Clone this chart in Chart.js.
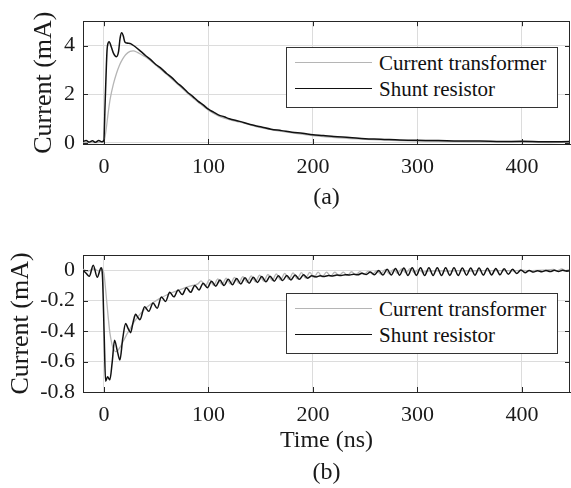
<!DOCTYPE html>
<html>
<head>
<meta charset="utf-8">
<script src="https://cdn.jsdelivr.net/npm/chart.js@4.4.1/dist/chart.umd.min.js"></script>
<style>
  body { margin: 0; background: #fff; }
  #wrap { position: relative; width: 571px; height: 488px; overflow: hidden; font-family: "Liberation Serif", "Times New Roman", serif; }
  canvas { position: absolute; left: 0; }
  #chartA { top: 0; }
  #chartB { top: 230px; }
  .legend { position: absolute; left: 286px; width: 270px; height: 59px; background: #fff; border: 1px solid #333; }
  .legend .row { position: absolute; left: 0; height: 26px; width: 100%; }
  .legend .sample { position: absolute; left: 8px; top: 12px; width: 77px; }
  .legend .label { position: absolute; left: 92px; top: 0; font-size: 21px; line-height: 26px; color: #111; white-space: nowrap; }
</style>
</head>
<body>
<div id="wrap">
  <canvas id="chartA" width="571" height="215"></canvas>
  <canvas id="chartB" width="571" height="258"></canvas>
  <div class="legend" id="legA" style="top:47px"></div>
  <div class="legend" id="legB" style="top:293px"></div>
</div>
<script>
// tick labels
const xTicks = [0, 100, 200, 300, 400];
const yTicksA = [0, 2, 4];
const yTicksB = [0, -0.2, -0.4, -0.6, -0.8];
const seriesNames = ['Current transformer', 'Shunt resistor'];

// (a) current transformer
const ctTimeA = [-20, -10, 0, 2, 4, 6, 9, 12, 15, 18, 21, 25, 28, 32, 36, 40, 50, 60, 70, 80,
  90, 100, 110, 120, 135, 150, 170, 200, 225, 250, 275, 300, 350, 400, 425, 446];
const ctValA = [0, 0.01, 0.05, 0.5, 1.2, 1.8, 2.4, 2.85, 3.2, 3.45, 3.63, 3.76, 3.78, 3.72, 3.62, 3.53, 3.18, 2.82, 2.43, 2.04,
  1.68, 1.34, 1.1, 0.95, 0.8, 0.62, 0.47, 0.3, 0.2, 0.14, 0.1, 0.07, 0.04, 0.02, 0.01, 0.02];

// (a) shunt resistor
const shTimeA = [-20, -17, -14, -11, -8, -5, -2, 0, 1, 2, 3, 4, 5, 7, 9, 12, 14, 15.5, 17, 18.5,
  20, 22, 25, 27, 30, 35, 40, 45, 50, 55, 60, 65, 70, 75, 80, 85, 90, 95, 100, 105,
  110, 115, 120, 130, 140, 150, 160, 170, 180, 190, 200, 210, 220, 235, 250, 265, 283, 300, 320, 340,
  360, 380, 400, 420, 446];
const shValA = [0.05, 0.09, 0.03, 0.08, 0.02, 0.09, 0.04, 0.1, 1.4, 2.7, 3.8, 4.1, 4.16, 3.95, 3.7, 3.54, 3.75, 4.3, 4.52, 4.4,
  4.15, 4.1, 4.08, 4.04, 3.95, 3.77, 3.58, 3.41, 3.21, 3.05, 2.85, 2.68, 2.47, 2.29, 2.08, 1.91, 1.71, 1.56, 1.38, 1.26,
  1.14, 1.07, 0.99, 0.88, 0.75, 0.66, 0.56, 0.5, 0.43, 0.39, 0.33, 0.3, 0.26, 0.22, 0.17, 0.15, 0.11, 0.1, 0.09, 0.07,
  0.07, 0.05, 0.06, 0.04, 0.05];

// (b) current transformer
const ctTimeB = [-20, -15, -10, -5, -2, 0, 1, 2.5, 4, 5.7, 7.5, 9, 11, 13, 16, 19, 22, 25, 28, 31,
  35, 40, 45, 50, 55, 60, 65, 70, 75, 80, 85, 90,
  93, 97, 101, 105, 109, 113, 117, 121, 125, 129, 133, 137, 141, 145, 149, 153, 157, 161, 165, 169,
  173, 177, 181, 185, 189, 193, 197, 201, 205, 209, 213, 217, 221, 225, 229, 233, 237, 241, 245, 249,
  253, 257, 261, 265, 269, 273, 277, 281, 285, 289, 293, 297, 301, 305,
  310, 320, 330, 340, 350, 360, 370, 380, 390, 400, 410, 420, 430, 434, 438, 442, 446];
const ctValB = [0.005, -0.005, 0.008, -0.004, 0.004, -0.02, -0.08, -0.19, -0.3, -0.41, -0.48, -0.515, -0.535, -0.53, -0.5, -0.46, -0.42, -0.385, -0.35, -0.32,
  -0.285, -0.25, -0.222, -0.2, -0.18, -0.163, -0.148, -0.135, -0.122, -0.11, -0.1, -0.09,
  -0.07, -0.105, -0.062, -0.1, -0.057, -0.095, -0.052, -0.09, -0.047, -0.085, -0.042, -0.08, -0.037, -0.076, -0.032, -0.072, -0.028, -0.068, -0.024, -0.064,
  -0.021, -0.06, -0.018, -0.056, -0.016, -0.052, -0.014, -0.048, -0.013, -0.044, -0.012, -0.04, -0.012, -0.037, -0.012, -0.034, -0.01, -0.031, -0.009, -0.028,
  -0.006, -0.026, -0.002, -0.026, 0.004, -0.024, 0.006, -0.02, 0.008, -0.018, 0.01, -0.016, 0.006, -0.014,
  -0.006, -0.004, -0.006, -0.003, -0.005, -0.002, -0.004, -0.002, -0.004, -0.001, -0.003, 0.0, 0.006, -0.004, 0.008, -0.002, 0.006];

// (b) shunt resistor
const shTimeB = [-20, -17, -14, -10.2, -6.4, -2.6, -1.3, 0.3, 1.6, 3.5, 5.7, 8, 10.2, 12.8, 15.3, 18, 20.8, 23, 25.5, 28,
  30.3, 32.5, 34.4,
  39, 43, 47, 51, 55, 59, 63, 67, 71, 75, 79, 83, 87, 91, 95, 99, 103, 107, 111, 115,
  119, 123, 127, 131, 135, 139, 143, 147, 151, 155, 159, 163, 167, 171, 175, 179, 183, 187, 191, 195,
  199, 203, 207, 211, 215, 219, 223, 227, 231, 235, 239, 243, 247, 251, 255, 259, 263, 267, 271, 275,
  279, 283, 287, 291, 295, 299, 303, 307, 311, 315, 319, 323, 327, 331, 335, 339, 343, 347, 351, 355,
  359, 363, 367, 371, 375, 379, 383, 387, 391, 395, 399, 403, 407, 411, 415, 419, 423, 427, 431, 435,
  439, 443, 447];
const shValB = [0.0, -0.02, -0.04, 0.033, -0.046, 0.016, -0.05, -0.435, -0.73, -0.7, -0.72, -0.6, -0.46, -0.53, -0.59, -0.45, -0.35, -0.38, -0.41, -0.34,
  -0.29, -0.31, -0.325,
  -0.24, -0.27, -0.215, -0.25, -0.176, -0.205, -0.145, -0.175, -0.13, -0.16, -0.115, -0.145, -0.1, -0.13, -0.085, -0.115, -0.072, -0.105, -0.065, -0.1,
  -0.06, -0.095, -0.055, -0.09, -0.05, -0.085, -0.046, -0.08, -0.042, -0.076, -0.04, -0.072, -0.037, -0.068, -0.034, -0.064, -0.031, -0.06, -0.03, -0.052,
  -0.036, -0.044, -0.037, -0.041, -0.035, -0.038, -0.032, -0.035, -0.029, -0.032, -0.026, -0.03, -0.02, -0.028, -0.012, -0.03, -0.002, -0.032, 0.006, -0.032,
  0.012, -0.033, 0.015, -0.034, 0.016, -0.034, 0.016, -0.035, 0.017, -0.035, 0.017, -0.035, 0.016, -0.034, 0.016, -0.034, 0.015, -0.033, 0.015, -0.033,
  0.014, -0.032, 0.013, -0.031, 0.012, -0.03, 0.01, -0.027, 0.006, -0.022, 0.002, -0.016, -0.002, -0.012, -0.003, -0.01, -0.002, -0.009, -0.001, -0.008,
  0.0, -0.006, -0.001];

const serif = '"Liberation Serif", "Times New Roman", serif';
const ink = '#1a1a1a';
const gridCol = '#dcdcdc';

const pairs = (ts, vs) => ts.map((t, i) => ({x: t, y: vs[i]}));

// matlab-style box with inward ticks
const boxTicks = {
  id: 'boxTicks',
  afterDatasetsDraw(chart) {
    const {ctx, chartArea: a, scales: {x, y}} = chart;
    const al = v => Math.round(v) + 0.5;
    ctx.save();
    ctx.strokeStyle = '#262626';
    ctx.lineWidth = 1;
    ctx.beginPath();
    x.ticks.forEach(t => {
      const px = al(x.getPixelForValue(t.value));
      ctx.moveTo(px, a.bottom); ctx.lineTo(px, a.bottom - 5);
      ctx.moveTo(px, a.top); ctx.lineTo(px, a.top + 5);
    });
    y.ticks.forEach(t => {
      const py = al(y.getPixelForValue(t.value));
      ctx.moveTo(a.left, py); ctx.lineTo(a.left + 5, py);
      ctx.moveTo(a.right, py); ctx.lineTo(a.right - 5, py);
    });
    ctx.moveTo(a.left, al(a.top)); ctx.lineTo(a.right, al(a.top));
    ctx.moveTo(al(a.right) - 1, a.top); ctx.lineTo(al(a.right) - 1, a.bottom);
    ctx.stroke();
    ctx.restore();
  }
};

function makeChart(id, ctT, ctV, shT, shV, yMin, yMax, yTicks, xTitle, cfg) {
  return new Chart(document.getElementById(id), {
    type: 'line',
    data: {
      datasets: [
        {label: seriesNames[0], data: pairs(ctT, ctV), borderColor: '#b5b5b5', borderWidth: 1.3, order: 1},
        {label: seriesNames[1], data: pairs(shT, shV), borderColor: '#111111', borderWidth: 1.5, order: 0}
      ]
    },
    options: {
      responsive: false,
      animation: false,
      parsing: false,
      layout: {padding: {top: cfg.padTop, right: 1, left: 0, bottom: 0}},
      elements: {point: {radius: 0}, line: {cubicInterpolationMode: 'monotone'}},
      plugins: {legend: {display: false}, tooltip: {enabled: false}},
      scales: {
        x: {
          type: 'linear', min: -20, max: 446,
          afterBuildTicks: s => { s.ticks = xTicks.map(v => ({value: v})); },
          afterFit: s => { s.height = cfg.xHeight; },
          grid: {color: gridCol, drawTicks: false},
          border: {color: '#262626', width: 1},
          ticks: {autoSkip: false, maxRotation: 0, padding: 10, color: ink, font: {family: serif, size: 22}, callback: v => String(v)},
          title: {display: true, text: xTitle, color: ink, font: {family: serif, size: 24, lineHeight: 1.3}, padding: {top: 0, bottom: cfg.titlePad}}
        },
        y: {
          type: 'linear', min: yMin, max: yMax,
          afterBuildTicks: s => { s.ticks = yTicks.map(v => ({value: v})); },
          afterFit: s => { s.width = 83; },
          grid: {color: gridCol, drawTicks: false},
          border: {color: '#262626', width: 1},
          ticks: {autoSkip: false, padding: 8, color: ink, font: {family: serif, size: 22}, callback: v => String(v)},
          title: {display: true, text: 'Current (mA)', color: ink, font: {family: serif, size: 26, lineHeight: 1.2}, padding: {top: cfg.yTitlePad, bottom: 0}}
        }
      }
    },
    plugins: [boxTicks]
  });
}

makeChart('chartA', ctTimeA, ctValA, shTimeA, shValA, -0.05, 5, yTicksA, '(a)',
  {padTop: 8, xHeight: 71, titlePad: 2, yTitlePad: 29});
makeChart('chartB', ctTimeB, ctValB, shTimeB, shValB, -0.8, 0.1, yTicksB, ['Time (ns)', '(b)'],
  {padTop: 25, xHeight: 96, titlePad: 0, yTitlePad: 6});

// legends (html so the text stays real text)
function buildLegend(id) {
  const box = document.getElementById(id);
  const styles = [{c: '#b5b5b5', w: 1.3}, {c: '#111111', w: 1.5}];
  seriesNames.forEach((name, i) => {
    const row = document.createElement('div');
    row.className = 'row';
    row.style.top = (2 + i * 26) + 'px';
    const s = document.createElement('div');
    s.className = 'sample';
    s.style.borderTop = styles[i].w + 'px solid ' + styles[i].c;
    const l = document.createElement('div');
    l.className = 'label';
    l.textContent = name;
    row.appendChild(s);
    row.appendChild(l);
    box.appendChild(row);
  });
}
buildLegend('legA');
buildLegend('legB');
</script>
</body>
</html>
